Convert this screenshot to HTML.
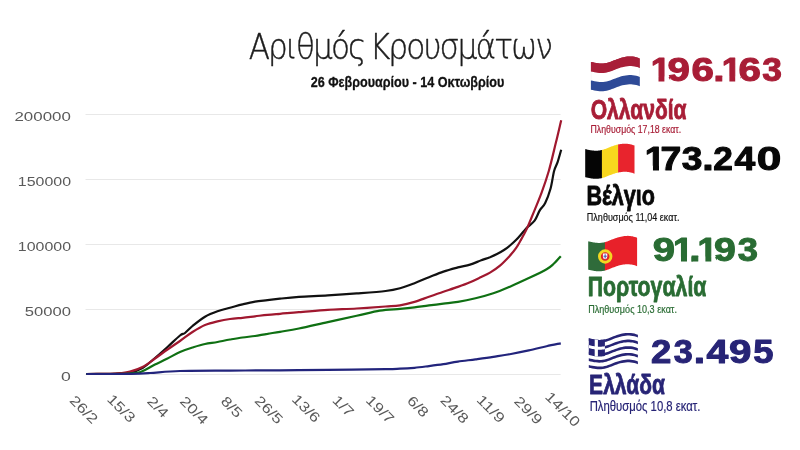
<!DOCTYPE html>
<html lang="el"><head><meta charset="utf-8"><title>Αριθμός Κρουσμάτων</title>
<style>
html,body{margin:0;padding:0;background:#fff;}
body{width:800px;height:450px;overflow:hidden;}
svg{display:block;will-change:transform;}
.lib{font-family:"Liberation Sans",sans-serif;}
.dj{font-family:"DejaVu Sans","Liberation Sans",sans-serif;}
</style></head><body>
<svg width="800" height="450" viewBox="0 0 800 450">
<rect width="800" height="450" fill="#ffffff"/>
<line x1="85.5" y1="114.5" x2="560.6" y2="114.5" stroke="#e8e8e8" stroke-width="1"/>
<line x1="85.5" y1="179.5" x2="560.6" y2="179.5" stroke="#e8e8e8" stroke-width="1"/>
<line x1="85.5" y1="244.5" x2="560.6" y2="244.5" stroke="#e8e8e8" stroke-width="1"/>
<line x1="85.5" y1="309.5" x2="560.6" y2="309.5" stroke="#e8e8e8" stroke-width="1"/>
<line x1="85.5" y1="374.5" x2="560.6" y2="374.5" stroke="#e8e8e8" stroke-width="1"/>
<text class="lib" transform="translate(68.70,401.25) rotate(45)" font-size="14.0" fill="#5a5a5a" textLength="33.2" lengthAdjust="spacingAndGlyphs">26/2</text>
<text class="lib" transform="translate(106.15,400.00) rotate(45)" font-size="14.0" fill="#5a5a5a" textLength="33.2" lengthAdjust="spacingAndGlyphs">15/3</text>
<text class="lib" transform="translate(146.25,402.05) rotate(45)" font-size="14.0" fill="#5a5a5a" textLength="23.7" lengthAdjust="spacingAndGlyphs">2/4</text>
<text class="lib" transform="translate(179.05,402.10) rotate(45)" font-size="14.0" fill="#5a5a5a" textLength="33.2" lengthAdjust="spacingAndGlyphs">20/4</text>
<text class="lib" transform="translate(219.90,402.00) rotate(45)" font-size="14.0" fill="#5a5a5a" textLength="23.7" lengthAdjust="spacingAndGlyphs">8/5</text>
<text class="lib" transform="translate(253.75,401.60) rotate(45)" font-size="14.0" fill="#5a5a5a" textLength="33.2" lengthAdjust="spacingAndGlyphs">26/5</text>
<text class="lib" transform="translate(291.10,400.10) rotate(45)" font-size="14.0" fill="#5a5a5a" textLength="33.2" lengthAdjust="spacingAndGlyphs">13/6</text>
<text class="lib" transform="translate(331.45,401.00) rotate(45)" font-size="14.0" fill="#5a5a5a" textLength="23.7" lengthAdjust="spacingAndGlyphs">1/7</text>
<text class="lib" transform="translate(365.00,401.00) rotate(45)" font-size="14.0" fill="#5a5a5a" textLength="33.2" lengthAdjust="spacingAndGlyphs">19/7</text>
<text class="lib" transform="translate(406.25,401.50) rotate(45)" font-size="14.0" fill="#5a5a5a" textLength="23.7" lengthAdjust="spacingAndGlyphs">6/8</text>
<text class="lib" transform="translate(439.50,401.10) rotate(45)" font-size="14.0" fill="#5a5a5a" textLength="33.2" lengthAdjust="spacingAndGlyphs">24/8</text>
<text class="lib" transform="translate(475.65,400.50) rotate(45)" font-size="14.0" fill="#5a5a5a" textLength="33.2" lengthAdjust="spacingAndGlyphs">11/9</text>
<text class="lib" transform="translate(513.30,402.00) rotate(45)" font-size="14.0" fill="#5a5a5a" textLength="33.2" lengthAdjust="spacingAndGlyphs">29/9</text>
<text class="lib" transform="translate(544.25,397.60) rotate(45)" font-size="14.0" fill="#5a5a5a" textLength="42.7" lengthAdjust="spacingAndGlyphs">14/10</text>
<path d="M 86.2,374.0 C 89.4,374.0 99.8,373.9 105.0,373.8 C 110.2,373.7 113.3,373.8 117.5,373.6 C 121.7,373.4 125.8,373.5 130.0,372.6 C 134.2,371.7 138.3,370.4 142.5,368.0 C 146.7,365.6 150.8,361.5 155.0,358.0 C 159.2,354.5 163.3,350.8 167.5,347.0 C 171.7,343.2 177.1,337.8 180.0,335.5 C 182.9,333.2 182.9,334.6 185.0,333.0 C 187.1,331.4 189.2,328.7 192.5,326.0 C 195.8,323.3 200.8,319.2 205.0,316.7 C 209.2,314.2 213.3,312.7 217.5,311.2 C 221.7,309.7 225.8,308.8 230.0,307.7 C 234.2,306.6 238.3,305.4 242.5,304.4 C 246.7,303.4 250.8,302.4 255.0,301.7 C 259.2,301.0 263.3,300.7 267.5,300.2 C 271.7,299.7 274.8,299.3 280.0,298.7 C 285.2,298.1 290.9,297.4 298.9,296.8 C 306.9,296.2 318.2,296.0 327.8,295.4 C 337.4,294.8 347.1,294.1 356.7,293.4 C 366.3,292.7 378.4,291.9 385.6,291.0 C 392.8,290.1 395.2,289.5 400.0,288.2 C 404.8,286.9 409.7,285.0 414.5,283.2 C 419.3,281.4 424.2,279.1 429.0,277.2 C 433.8,275.3 438.6,273.2 443.4,271.6 C 448.2,270.0 453.5,268.6 457.9,267.4 C 462.3,266.2 466.1,265.8 470.0,264.6 C 473.9,263.4 478.0,261.5 481.3,260.3 C 484.6,259.1 487.4,258.2 490.0,257.2 C 492.6,256.1 494.7,255.2 497.0,254.0 C 499.3,252.8 501.8,251.4 504.0,250.0 C 506.2,248.6 508.0,247.2 510.0,245.5 C 512.0,243.8 514.3,241.7 516.0,240.0 C 517.7,238.3 519.1,236.7 520.4,235.2 C 521.7,233.7 522.8,232.3 524.0,231.0 C 525.2,229.7 525.7,228.8 527.5,227.1 C 529.3,225.4 532.5,223.5 534.6,220.7 C 536.7,217.9 538.1,213.0 539.9,210.1 C 541.7,207.2 543.4,206.6 545.2,203.0 C 547.0,199.4 549.0,194.1 550.5,188.8 C 552.0,183.5 552.9,175.4 554.1,171.0 C 555.3,166.6 556.4,165.7 557.6,162.1 C 558.8,158.5 560.6,151.8 561.2,149.7" fill="none" stroke="#111111" stroke-width="2.2" stroke-linejoin="round" stroke-linecap="butt"/>
<path d="M 86.2,374.0 C 90.2,374.0 104.4,373.9 110.0,373.8 C 115.6,373.7 116.7,373.6 120.0,373.2 C 123.3,372.8 126.2,372.6 130.0,371.6 C 133.8,370.6 138.3,369.2 142.5,367.0 C 146.7,364.8 150.8,361.4 155.0,358.5 C 159.2,355.6 163.3,352.4 167.5,349.5 C 171.7,346.6 175.8,343.9 180.0,341.0 C 184.2,338.1 188.3,334.6 192.5,332.0 C 196.7,329.4 200.8,326.9 205.0,325.1 C 209.2,323.3 213.3,322.4 217.5,321.4 C 221.7,320.4 225.8,319.6 230.0,319.0 C 234.2,318.4 238.3,318.2 242.5,317.8 C 246.7,317.4 250.8,316.8 255.0,316.3 C 259.2,315.8 263.3,315.2 267.5,314.8 C 271.7,314.4 274.8,314.2 280.0,313.8 C 285.2,313.4 290.9,312.8 298.9,312.2 C 306.9,311.6 318.2,310.5 327.8,309.9 C 337.4,309.3 347.1,309.1 356.7,308.5 C 366.3,307.9 378.4,307.0 385.6,306.5 C 392.8,306.0 395.2,306.1 400.0,305.3 C 404.8,304.5 409.7,303.3 414.5,301.9 C 419.3,300.5 424.2,298.4 429.0,296.7 C 433.8,295.0 438.6,293.3 443.4,291.7 C 448.2,290.1 453.5,288.5 457.9,286.9 C 462.3,285.3 466.3,283.8 470.0,282.2 C 473.7,280.7 476.7,279.2 480.0,277.6 C 483.3,276.0 486.7,274.6 490.0,272.6 C 493.3,270.6 496.7,268.4 500.0,265.6 C 503.3,262.8 507.3,258.5 510.0,255.6 C 512.7,252.7 514.3,250.7 516.0,248.2 C 517.7,245.7 519.1,243.1 520.4,240.8 C 521.7,238.5 522.8,236.6 524.0,234.3 C 525.2,232.1 525.7,231.3 527.5,227.3 C 529.3,223.3 532.2,215.9 534.6,210.1 C 537.0,204.3 539.3,198.8 541.7,192.3 C 544.1,185.8 546.4,179.3 548.8,171.0 C 551.2,162.7 553.8,151.1 555.9,142.6 C 558.0,134.1 560.3,123.9 561.2,120.2" fill="none" stroke="#a0182f" stroke-width="2.2" stroke-linejoin="round" stroke-linecap="butt"/>
<path d="M 86.2,374.0 C 92.7,374.0 116.5,374.0 125.0,373.8 C 133.5,373.6 134.2,373.4 137.5,372.8 C 140.8,372.2 142.1,371.4 145.0,370.0 C 147.9,368.6 151.2,366.4 155.0,364.5 C 158.8,362.6 163.3,360.6 167.5,358.5 C 171.7,356.4 175.8,353.8 180.0,352.0 C 184.2,350.2 188.3,348.8 192.5,347.5 C 196.7,346.2 200.8,344.9 205.0,344.0 C 209.2,343.1 213.3,342.8 217.5,342.0 C 221.7,341.2 225.8,340.2 230.0,339.5 C 234.2,338.8 238.3,338.1 242.5,337.5 C 246.7,336.9 250.8,336.6 255.0,336.0 C 259.2,335.4 263.3,334.4 267.5,333.8 C 271.7,333.1 274.8,332.7 280.0,331.8 C 285.2,330.9 290.9,330.1 298.9,328.5 C 306.9,326.9 318.2,324.2 327.8,322.1 C 337.4,320.0 348.0,317.7 356.7,315.8 C 365.4,313.9 372.6,311.8 379.8,310.6 C 387.0,309.5 394.2,309.4 400.0,308.9 C 405.8,308.4 409.7,308.0 414.5,307.4 C 419.3,306.8 424.2,306.0 429.0,305.4 C 433.8,304.8 438.6,304.3 443.4,303.7 C 448.2,303.1 452.5,302.8 457.9,301.9 C 463.2,301.0 469.6,299.7 475.5,298.3 C 481.4,296.9 487.4,295.3 493.3,293.3 C 499.2,291.3 505.1,288.7 511.0,286.2 C 516.9,283.7 522.9,280.9 528.8,278.1 C 534.7,275.3 542.5,271.6 546.6,269.2 C 550.8,266.8 551.3,266.0 553.7,263.8 C 556.1,261.6 559.6,257.5 560.8,256.2" fill="none" stroke="#0f7013" stroke-width="2.2" stroke-linejoin="round" stroke-linecap="butt"/>
<path d="M 86.2,374.0 C 93.5,374.0 119.4,374.0 130.0,373.8 C 140.6,373.6 141.7,373.5 150.0,373.0 C 158.3,372.5 166.7,371.4 180.0,371.0 C 193.3,370.6 213.3,370.7 230.0,370.6 C 246.7,370.5 263.7,370.4 280.0,370.3 C 296.3,370.2 310.2,370.0 327.8,369.8 C 345.4,369.6 373.6,369.4 385.6,369.2 C 397.6,369.0 395.2,368.9 400.0,368.7 C 404.8,368.5 409.7,368.2 414.5,367.8 C 419.3,367.4 424.2,366.7 429.0,366.1 C 433.8,365.5 438.6,364.9 443.4,364.2 C 448.2,363.4 452.5,362.4 457.9,361.6 C 463.2,360.8 469.6,360.1 475.5,359.3 C 481.4,358.5 487.4,357.7 493.3,356.8 C 499.2,355.9 505.1,355.1 511.0,354.0 C 516.9,352.9 522.9,351.7 528.8,350.4 C 534.7,349.1 541.3,347.4 546.6,346.2 C 551.9,345.0 558.4,343.8 560.8,343.3" fill="none" stroke="#22247c" stroke-width="2.2" stroke-linejoin="round" stroke-linecap="butt"/>
<path d="M 590.90,61.90 L 592.65,62.28 L 594.39,62.67 L 596.14,63.01 L 597.89,63.25 L 599.63,63.43 L 601.38,63.52 L 603.12,63.47 L 604.87,63.29 L 606.62,62.99 L 608.36,62.54 L 610.11,61.99 L 611.86,61.31 L 613.60,60.58 L 615.35,59.90 L 617.10,59.26 L 618.84,58.63 L 620.59,58.05 L 622.34,57.57 L 624.08,57.17 L 625.83,56.85 L 627.57,56.61 L 629.32,56.49 L 631.07,56.48 L 632.81,56.61 L 634.56,56.84 L 636.31,57.22 L 638.05,57.75 L 639.80,58.40 L 639.80,86.20 L 638.05,85.55 L 636.31,85.02 L 634.56,84.64 L 632.81,84.41 L 631.07,84.28 L 629.32,84.29 L 627.57,84.41 L 625.83,84.65 L 624.08,84.97 L 622.34,85.37 L 620.59,85.85 L 618.84,86.43 L 617.10,87.06 L 615.35,87.70 L 613.60,88.38 L 611.86,89.11 L 610.11,89.79 L 608.36,90.34 L 606.62,90.79 L 604.87,91.09 L 603.12,91.27 L 601.38,91.32 L 599.63,91.23 L 597.89,91.05 L 596.14,90.81 L 594.39,90.47 L 592.65,90.08 L 590.90,89.70 Z" fill="#ececec"/>
<path d="M 591.30,61.90 L 593.02,62.28 L 594.74,62.67 L 596.45,63.01 L 598.17,63.25 L 599.89,63.43 L 601.61,63.52 L 603.32,63.47 L 605.04,63.29 L 606.76,62.99 L 608.48,62.54 L 610.20,61.99 L 611.91,61.31 L 613.63,60.58 L 615.35,59.90 L 617.07,59.26 L 618.79,58.63 L 620.50,58.05 L 622.22,57.57 L 623.94,57.17 L 625.66,56.85 L 627.38,56.61 L 629.09,56.49 L 630.81,56.48 L 632.53,56.61 L 634.25,56.84 L 635.96,57.22 L 637.68,57.75 L 639.40,58.40 L 639.40,67.97 L 637.68,67.32 L 635.96,66.79 L 634.25,66.41 L 632.53,66.18 L 630.81,66.05 L 629.09,66.05 L 627.38,66.18 L 625.66,66.41 L 623.94,66.74 L 622.22,67.13 L 620.50,67.62 L 618.79,68.20 L 617.07,68.83 L 615.35,69.47 L 613.63,70.15 L 611.91,70.88 L 610.20,71.56 L 608.48,72.11 L 606.76,72.56 L 605.04,72.86 L 603.32,73.04 L 601.61,73.09 L 599.89,73.00 L 598.17,72.81 L 596.45,72.57 L 594.74,72.24 L 593.02,71.85 L 591.30,71.47 Z" fill="#a81e38"/>
<path d="M 591.30,71.17 L 593.02,71.55 L 594.74,71.94 L 596.45,72.27 L 598.17,72.51 L 599.89,72.70 L 601.61,72.79 L 603.32,72.74 L 605.04,72.56 L 606.76,72.26 L 608.48,71.81 L 610.20,71.26 L 611.91,70.58 L 613.63,69.85 L 615.35,69.17 L 617.07,68.53 L 618.79,67.90 L 620.50,67.32 L 622.22,66.83 L 623.94,66.44 L 625.66,66.11 L 627.38,65.88 L 629.09,65.75 L 630.81,65.75 L 632.53,65.88 L 634.25,66.11 L 635.96,66.49 L 637.68,67.02 L 639.40,67.67 L 639.40,77.23 L 637.68,76.59 L 635.96,76.06 L 634.25,75.68 L 632.53,75.45 L 630.81,75.32 L 629.09,75.32 L 627.38,75.45 L 625.66,75.68 L 623.94,76.00 L 622.22,76.40 L 620.50,76.88 L 618.79,77.47 L 617.07,78.10 L 615.35,78.73 L 613.63,79.41 L 611.91,80.14 L 610.20,80.83 L 608.48,81.38 L 606.76,81.82 L 605.04,82.13 L 603.32,82.30 L 601.61,82.35 L 599.89,82.27 L 598.17,82.08 L 596.45,81.84 L 594.74,81.50 L 593.02,81.12 L 591.30,80.73 Z" fill="#ffffff"/>
<path d="M 590.90,80.43 L 592.65,80.82 L 594.39,81.20 L 596.14,81.54 L 597.89,81.78 L 599.63,81.97 L 601.38,82.05 L 603.12,82.00 L 604.87,81.83 L 606.62,81.52 L 608.36,81.08 L 610.11,80.53 L 611.86,79.84 L 613.60,79.11 L 615.35,78.43 L 617.10,77.80 L 618.84,77.17 L 620.59,76.58 L 622.34,76.10 L 624.08,75.70 L 625.83,75.38 L 627.57,75.15 L 629.32,75.02 L 631.07,75.02 L 632.81,75.15 L 634.56,75.38 L 636.31,75.76 L 638.05,76.29 L 639.80,76.93 L 639.80,86.20 L 638.05,85.55 L 636.31,85.02 L 634.56,84.64 L 632.81,84.41 L 631.07,84.28 L 629.32,84.29 L 627.57,84.41 L 625.83,84.65 L 624.08,84.97 L 622.34,85.37 L 620.59,85.85 L 618.84,86.43 L 617.10,87.06 L 615.35,87.70 L 613.60,88.38 L 611.86,89.11 L 610.11,89.79 L 608.36,90.34 L 606.62,90.79 L 604.87,91.09 L 603.12,91.27 L 601.38,91.32 L 599.63,91.23 L 597.89,91.05 L 596.14,90.81 L 594.39,90.47 L 592.65,90.08 L 590.90,89.70 Z" fill="#2e4a97"/>
<path d="M 590.90,61.90 L 592.65,62.28 L 594.39,62.67 L 596.14,63.01 L 597.89,63.25 L 599.63,63.43 L 601.38,63.52 L 603.12,63.47 L 604.87,63.29 L 606.62,62.99 L 608.36,62.54 L 610.11,61.99 L 611.86,61.31 L 613.60,60.58 L 615.35,59.90 L 617.10,59.26 L 618.84,58.63 L 620.59,58.05 L 622.34,57.57 L 624.08,57.17 L 625.83,56.85 L 627.57,56.61 L 629.32,56.49 L 631.07,56.48 L 632.81,56.61 L 634.56,56.84 L 636.31,57.22 L 638.05,57.75 L 639.80,58.40 L 639.80,67.97 L 638.05,67.32 L 636.31,66.79 L 634.56,66.41 L 632.81,66.18 L 631.07,66.05 L 629.32,66.05 L 627.57,66.18 L 625.83,66.41 L 624.08,66.74 L 622.34,67.13 L 620.59,67.62 L 618.84,68.20 L 617.10,68.83 L 615.35,69.47 L 613.60,70.15 L 611.86,70.88 L 610.11,71.56 L 608.36,72.11 L 606.62,72.56 L 604.87,72.86 L 603.12,73.04 L 601.38,73.09 L 599.63,73.00 L 597.89,72.81 L 596.14,72.57 L 594.39,72.24 L 592.65,71.85 L 590.90,71.47 Z" fill="#a81e38"/>
<path d="M 585.20,149.10 L 585.80,149.23 L 586.41,149.36 L 587.01,149.49 L 587.61,149.63 L 588.22,149.76 L 588.82,149.89 L 589.43,150.02 L 590.03,150.13 L 590.63,150.23 L 591.24,150.32 L 591.84,150.40 L 592.44,150.47 L 593.05,150.54 L 593.65,150.60 L 594.25,150.65 L 594.86,150.69 L 595.46,150.71 L 596.06,150.72 L 596.67,150.71 L 597.27,150.69 L 597.88,150.64 L 598.48,150.59 L 599.08,150.52 L 599.69,150.44 L 600.29,150.34 L 600.89,150.22 L 601.50,150.09 L 602.10,149.94 L 602.10,178.04 L 601.50,178.19 L 600.89,178.32 L 600.29,178.44 L 599.69,178.54 L 599.08,178.62 L 598.48,178.69 L 597.88,178.74 L 597.27,178.79 L 596.67,178.81 L 596.06,178.82 L 595.46,178.81 L 594.86,178.79 L 594.25,178.75 L 593.65,178.70 L 593.05,178.64 L 592.44,178.57 L 591.84,178.50 L 591.24,178.42 L 590.63,178.33 L 590.03,178.23 L 589.43,178.12 L 588.82,177.99 L 588.22,177.86 L 587.61,177.73 L 587.01,177.59 L 586.41,177.46 L 585.80,177.33 L 585.20,177.20 Z" fill="#050505"/>
<path d="M 601.90,149.99 L 602.49,149.84 L 603.07,149.67 L 603.66,149.50 L 604.24,149.31 L 604.83,149.10 L 605.41,148.88 L 606.00,148.64 L 606.59,148.40 L 607.17,148.16 L 607.76,147.92 L 608.34,147.68 L 608.93,147.44 L 609.51,147.22 L 610.10,147.01 L 610.69,146.80 L 611.27,146.59 L 611.86,146.37 L 612.44,146.16 L 613.03,145.95 L 613.61,145.75 L 614.20,145.55 L 614.79,145.36 L 615.37,145.18 L 615.96,145.01 L 616.54,144.85 L 617.13,144.71 L 617.71,144.57 L 618.30,144.44 L 618.30,172.54 L 617.71,172.67 L 617.13,172.81 L 616.54,172.95 L 615.96,173.11 L 615.37,173.28 L 614.79,173.46 L 614.20,173.65 L 613.61,173.85 L 613.03,174.05 L 612.44,174.26 L 611.86,174.47 L 611.27,174.69 L 610.69,174.90 L 610.10,175.11 L 609.51,175.32 L 608.93,175.54 L 608.34,175.78 L 607.76,176.02 L 607.17,176.26 L 606.59,176.50 L 606.00,176.74 L 605.41,176.98 L 604.83,177.20 L 604.24,177.41 L 603.66,177.60 L 603.07,177.77 L 602.49,177.94 L 601.90,178.09 Z" fill="#f8d71e"/>
<path d="M 618.10,144.49 L 618.69,144.36 L 619.27,144.25 L 619.86,144.14 L 620.44,144.04 L 621.03,143.96 L 621.61,143.88 L 622.20,143.81 L 622.79,143.76 L 623.37,143.72 L 623.96,143.68 L 624.54,143.67 L 625.13,143.67 L 625.71,143.68 L 626.30,143.72 L 626.89,143.76 L 627.47,143.82 L 628.06,143.88 L 628.64,143.96 L 629.23,144.05 L 629.81,144.15 L 630.40,144.28 L 630.99,144.42 L 631.57,144.59 L 632.16,144.76 L 632.74,144.95 L 633.33,145.16 L 633.91,145.37 L 634.50,145.60 L 634.50,173.70 L 633.91,173.47 L 633.33,173.26 L 632.74,173.05 L 632.16,172.86 L 631.57,172.69 L 630.99,172.52 L 630.40,172.38 L 629.81,172.25 L 629.23,172.15 L 628.64,172.06 L 628.06,171.98 L 627.47,171.92 L 626.89,171.86 L 626.30,171.82 L 625.71,171.78 L 625.13,171.77 L 624.54,171.77 L 623.96,171.78 L 623.37,171.82 L 622.79,171.86 L 622.20,171.91 L 621.61,171.98 L 621.03,172.06 L 620.44,172.14 L 619.86,172.24 L 619.27,172.35 L 618.69,172.46 L 618.10,172.59 Z" fill="#e8242d"/>
<path d="M 588.20,241.30 L 588.80,241.43 L 589.41,241.56 L 590.01,241.70 L 590.61,241.83 L 591.22,241.97 L 591.82,242.10 L 592.43,242.22 L 593.03,242.34 L 593.63,242.44 L 594.24,242.52 L 594.84,242.60 L 595.44,242.68 L 596.05,242.75 L 596.65,242.81 L 597.25,242.86 L 597.86,242.89 L 598.46,242.92 L 599.06,242.92 L 599.67,242.91 L 600.27,242.88 L 600.88,242.84 L 601.48,242.78 L 602.08,242.71 L 602.69,242.62 L 603.29,242.51 L 603.89,242.39 L 604.50,242.26 L 605.10,242.10 L 605.10,270.50 L 604.50,270.66 L 603.89,270.79 L 603.29,270.91 L 602.69,271.02 L 602.08,271.11 L 601.48,271.18 L 600.88,271.24 L 600.27,271.28 L 599.67,271.31 L 599.06,271.32 L 598.46,271.32 L 597.86,271.29 L 597.25,271.26 L 596.65,271.21 L 596.05,271.15 L 595.44,271.08 L 594.84,271.00 L 594.24,270.92 L 593.63,270.84 L 593.03,270.74 L 592.43,270.62 L 591.82,270.50 L 591.22,270.37 L 590.61,270.23 L 590.01,270.10 L 589.41,269.96 L 588.80,269.83 L 588.20,269.70 Z" fill="#2f6b3a"/>
<path d="M 604.90,242.16 L 606.05,241.83 L 607.20,241.47 L 608.35,241.04 L 609.50,240.57 L 610.65,240.09 L 611.80,239.62 L 612.95,239.19 L 614.10,238.77 L 615.25,238.35 L 616.40,237.94 L 617.55,237.56 L 618.70,237.21 L 619.85,236.91 L 621.00,236.65 L 622.15,236.42 L 623.30,236.22 L 624.45,236.06 L 625.60,235.95 L 626.75,235.88 L 627.90,235.87 L 629.05,235.92 L 630.20,236.02 L 631.35,236.17 L 632.50,236.36 L 633.65,236.63 L 634.80,236.97 L 635.95,237.36 L 637.10,237.80 L 637.10,266.20 L 635.95,265.76 L 634.80,265.37 L 633.65,265.03 L 632.50,264.76 L 631.35,264.57 L 630.20,264.42 L 629.05,264.32 L 627.90,264.27 L 626.75,264.28 L 625.60,264.35 L 624.45,264.46 L 623.30,264.62 L 622.15,264.82 L 621.00,265.05 L 619.85,265.31 L 618.70,265.61 L 617.55,265.96 L 616.40,266.34 L 615.25,266.75 L 614.10,267.17 L 612.95,267.59 L 611.80,268.02 L 610.65,268.49 L 609.50,268.97 L 608.35,269.44 L 607.20,269.87 L 606.05,270.23 L 604.90,270.56 Z" fill="#e8212a"/>
<circle cx="605.2" cy="256.5" r="5.75" fill="#dc232b" stroke="#f2d822" stroke-width="2.9"/>
<path d="M 602.9,253.6 h 4.4 v 3.2 a 2.2,2.4 0 0 1 -4.4,0 Z" fill="#ffffff"/>
<rect x="604.6" y="254.3" width="1.1" height="4.2" fill="#4a62b0"/><rect x="603.5" y="255.7" width="3.3" height="1.1" fill="#4a62b0"/>
<path d="M 588.80,338.30 L 590.55,338.68 L 592.31,339.07 L 594.06,339.41 L 595.81,339.65 L 597.57,339.83 L 599.32,339.92 L 601.07,339.87 L 602.83,339.69 L 604.58,339.39 L 606.34,338.94 L 608.09,338.39 L 609.84,337.71 L 611.60,336.98 L 613.35,336.30 L 615.10,335.66 L 616.86,335.03 L 618.61,334.45 L 620.36,333.97 L 622.12,333.57 L 623.87,333.25 L 625.62,333.01 L 627.38,332.89 L 629.13,332.88 L 630.89,333.01 L 632.64,333.24 L 634.39,333.62 L 636.15,334.15 L 637.90,334.80 L 637.90,337.50 L 636.15,336.85 L 634.39,336.32 L 632.64,335.94 L 630.89,335.71 L 629.13,335.58 L 627.38,335.59 L 625.62,335.71 L 623.87,335.95 L 622.12,336.27 L 620.36,336.67 L 618.61,337.15 L 616.86,337.73 L 615.10,338.36 L 613.35,339.00 L 611.60,339.68 L 609.84,340.41 L 608.09,341.09 L 606.34,341.64 L 604.58,342.09 L 602.83,342.39 L 601.07,342.57 L 599.32,342.62 L 597.57,342.53 L 595.81,342.35 L 594.06,342.11 L 592.31,341.77 L 590.55,341.38 L 588.80,341.00 Z" fill="#272476"/>
<path d="M 588.80,344.98 L 590.55,345.36 L 592.31,345.75 L 594.06,346.08 L 595.81,346.32 L 597.57,346.51 L 599.32,346.60 L 601.07,346.55 L 602.83,346.37 L 604.58,346.06 L 606.34,345.62 L 608.09,345.07 L 609.84,344.39 L 611.60,343.66 L 613.35,342.98 L 615.10,342.34 L 616.86,341.71 L 618.61,341.13 L 620.36,340.64 L 622.12,340.24 L 623.87,339.92 L 625.62,339.69 L 627.38,339.56 L 629.13,339.56 L 630.89,339.69 L 632.64,339.92 L 634.39,340.30 L 636.15,340.83 L 637.90,341.48 L 637.90,344.18 L 636.15,343.53 L 634.39,343.00 L 632.64,342.62 L 630.89,342.39 L 629.13,342.26 L 627.38,342.26 L 625.62,342.39 L 623.87,342.62 L 622.12,342.94 L 620.36,343.34 L 618.61,343.83 L 616.86,344.41 L 615.10,345.04 L 613.35,345.68 L 611.60,346.36 L 609.84,347.09 L 608.09,347.77 L 606.34,348.32 L 604.58,348.76 L 602.83,349.07 L 601.07,349.25 L 599.32,349.30 L 597.57,349.21 L 595.81,349.02 L 594.06,348.78 L 592.31,348.45 L 590.55,348.06 L 588.80,347.68 Z" fill="#272476"/>
<path d="M 588.80,351.65 L 590.55,352.03 L 592.31,352.42 L 594.06,352.76 L 595.81,353.00 L 597.57,353.18 L 599.32,353.27 L 601.07,353.22 L 602.83,353.04 L 604.58,352.74 L 606.34,352.29 L 608.09,351.74 L 609.84,351.06 L 611.60,350.33 L 613.35,349.65 L 615.10,349.01 L 616.86,348.38 L 618.61,347.80 L 620.36,347.32 L 622.12,346.92 L 623.87,346.60 L 625.62,346.36 L 627.38,346.24 L 629.13,346.23 L 630.89,346.36 L 632.64,346.59 L 634.39,346.97 L 636.15,347.50 L 637.90,348.15 L 637.90,350.85 L 636.15,350.20 L 634.39,349.67 L 632.64,349.29 L 630.89,349.06 L 629.13,348.93 L 627.38,348.94 L 625.62,349.06 L 623.87,349.30 L 622.12,349.62 L 620.36,350.02 L 618.61,350.50 L 616.86,351.08 L 615.10,351.71 L 613.35,352.35 L 611.60,353.03 L 609.84,353.76 L 608.09,354.44 L 606.34,354.99 L 604.58,355.44 L 602.83,355.74 L 601.07,355.92 L 599.32,355.97 L 597.57,355.88 L 595.81,355.70 L 594.06,355.46 L 592.31,355.12 L 590.55,354.73 L 588.80,354.35 Z" fill="#272476"/>
<path d="M 588.80,358.32 L 590.55,358.71 L 592.31,359.10 L 594.06,359.43 L 595.81,359.67 L 597.57,359.86 L 599.32,359.95 L 601.07,359.90 L 602.83,359.72 L 604.58,359.41 L 606.34,358.97 L 608.09,358.42 L 609.84,357.74 L 611.60,357.01 L 613.35,356.32 L 615.10,355.69 L 616.86,355.06 L 618.61,354.48 L 620.36,353.99 L 622.12,353.59 L 623.87,353.27 L 625.62,353.04 L 627.38,352.91 L 629.13,352.91 L 630.89,353.04 L 632.64,353.27 L 634.39,353.65 L 636.15,354.18 L 637.90,354.82 L 637.90,357.52 L 636.15,356.88 L 634.39,356.35 L 632.64,355.97 L 630.89,355.74 L 629.13,355.61 L 627.38,355.61 L 625.62,355.74 L 623.87,355.97 L 622.12,356.29 L 620.36,356.69 L 618.61,357.18 L 616.86,357.76 L 615.10,358.39 L 613.35,359.02 L 611.60,359.71 L 609.84,360.44 L 608.09,361.12 L 606.34,361.67 L 604.58,362.11 L 602.83,362.42 L 601.07,362.60 L 599.32,362.65 L 597.57,362.56 L 595.81,362.37 L 594.06,362.13 L 592.31,361.80 L 590.55,361.41 L 588.80,361.02 Z" fill="#272476"/>
<path d="M 588.80,365.00 L 590.55,365.38 L 592.31,365.77 L 594.06,366.11 L 595.81,366.35 L 597.57,366.53 L 599.32,366.62 L 601.07,366.57 L 602.83,366.39 L 604.58,366.09 L 606.34,365.64 L 608.09,365.09 L 609.84,364.41 L 611.60,363.68 L 613.35,363.00 L 615.10,362.36 L 616.86,361.73 L 618.61,361.15 L 620.36,360.67 L 622.12,360.27 L 623.87,359.95 L 625.62,359.71 L 627.38,359.59 L 629.13,359.58 L 630.89,359.71 L 632.64,359.94 L 634.39,360.32 L 636.15,360.85 L 637.90,361.50 L 637.90,364.20 L 636.15,363.55 L 634.39,363.02 L 632.64,362.64 L 630.89,362.41 L 629.13,362.28 L 627.38,362.29 L 625.62,362.41 L 623.87,362.65 L 622.12,362.97 L 620.36,363.37 L 618.61,363.85 L 616.86,364.43 L 615.10,365.06 L 613.35,365.70 L 611.60,366.38 L 609.84,367.11 L 608.09,367.79 L 606.34,368.34 L 604.58,368.79 L 602.83,369.09 L 601.07,369.27 L 599.32,369.32 L 597.57,369.23 L 595.81,369.05 L 594.06,368.81 L 592.31,368.47 L 590.55,368.08 L 588.80,367.70 Z" fill="#272476"/>
<path d="M 588.80,338.30 L 589.38,338.42 L 589.95,338.55 L 590.52,338.68 L 591.10,338.81 L 591.67,338.93 L 592.25,339.06 L 592.82,339.18 L 593.40,339.29 L 593.97,339.39 L 594.55,339.48 L 595.12,339.56 L 595.70,339.63 L 596.27,339.70 L 596.85,339.76 L 597.42,339.82 L 598.00,339.86 L 598.57,339.90 L 599.15,339.92 L 599.72,339.92 L 600.30,339.91 L 600.88,339.88 L 601.45,339.84 L 602.02,339.79 L 602.60,339.72 L 603.17,339.64 L 603.75,339.55 L 604.32,339.44 L 604.90,339.32 L 604.90,355.97 L 604.32,356.09 L 603.75,356.20 L 603.17,356.29 L 602.60,356.37 L 602.02,356.44 L 601.45,356.49 L 600.88,356.53 L 600.30,356.56 L 599.72,356.57 L 599.15,356.57 L 598.57,356.55 L 598.00,356.51 L 597.42,356.47 L 596.85,356.41 L 596.27,356.35 L 595.70,356.28 L 595.12,356.21 L 594.55,356.13 L 593.97,356.04 L 593.40,355.94 L 592.82,355.83 L 592.25,355.71 L 591.67,355.58 L 591.10,355.46 L 590.52,355.33 L 589.95,355.20 L 589.38,355.07 L 588.80,354.95 Z" fill="#272476"/>
<path d="M 594.70,339.50 L 594.81,339.52 L 594.93,339.53 L 595.04,339.55 L 595.16,339.56 L 595.27,339.58 L 595.39,339.59 L 595.50,339.61 L 595.61,339.62 L 595.73,339.64 L 595.84,339.65 L 595.96,339.66 L 596.07,339.68 L 596.19,339.69 L 596.30,339.70 L 596.41,339.72 L 596.53,339.73 L 596.64,339.74 L 596.76,339.76 L 596.87,339.77 L 596.99,339.78 L 597.10,339.79 L 597.21,339.80 L 597.33,339.81 L 597.44,339.82 L 597.56,339.83 L 597.67,339.84 L 597.79,339.85 L 597.90,339.86 L 597.90,356.51 L 597.79,356.50 L 597.67,356.49 L 597.56,356.48 L 597.44,356.47 L 597.33,356.46 L 597.21,356.45 L 597.10,356.44 L 596.99,356.43 L 596.87,356.42 L 596.76,356.41 L 596.64,356.39 L 596.53,356.38 L 596.41,356.37 L 596.30,356.35 L 596.19,356.34 L 596.07,356.33 L 595.96,356.31 L 595.84,356.30 L 595.73,356.29 L 595.61,356.27 L 595.50,356.26 L 595.39,356.24 L 595.27,356.23 L 595.16,356.21 L 595.04,356.20 L 594.93,356.18 L 594.81,356.17 L 594.70,356.15 Z" fill="#ffffff"/>
<path d="M 588.80,345.12 L 589.38,345.25 L 589.95,345.37 L 590.52,345.50 L 591.10,345.63 L 591.67,345.76 L 592.25,345.88 L 592.82,346.00 L 593.40,346.12 L 593.97,346.22 L 594.55,346.31 L 595.12,346.38 L 595.70,346.46 L 596.27,346.53 L 596.85,346.59 L 597.42,346.64 L 598.00,346.69 L 598.57,346.72 L 599.15,346.74 L 599.72,346.75 L 600.30,346.74 L 600.88,346.71 L 601.45,346.67 L 602.02,346.61 L 602.60,346.55 L 603.17,346.47 L 603.75,346.38 L 604.32,346.27 L 604.90,346.14 L 604.90,349.14 L 604.32,349.27 L 603.75,349.38 L 603.17,349.47 L 602.60,349.55 L 602.02,349.61 L 601.45,349.67 L 600.88,349.71 L 600.30,349.74 L 599.72,349.75 L 599.15,349.74 L 598.57,349.72 L 598.00,349.69 L 597.42,349.64 L 596.85,349.59 L 596.27,349.53 L 595.70,349.46 L 595.12,349.38 L 594.55,349.31 L 593.97,349.22 L 593.40,349.12 L 592.82,349.00 L 592.25,348.88 L 591.67,348.76 L 591.10,348.63 L 590.52,348.50 L 589.95,348.37 L 589.38,348.25 L 588.80,348.12 Z" fill="#ffffff"/>
<text class="lib" x="590.67" y="119.00" font-size="27.18" font-weight="700" fill="#a81d36" stroke="#a81d36" stroke-width="0.8" stroke-linejoin="round" textLength="95.92" lengthAdjust="spacingAndGlyphs">Ολλανδία</text>
<text class="lib" x="590.47" y="132.80" font-size="11.19" font-weight="400" fill="#a81d36" stroke="#a81d36" stroke-width="0.2" stroke-linejoin="round" textLength="90.75" lengthAdjust="spacingAndGlyphs">Πληθυσμός 17,18 εκατ.</text>
<text class="lib" x="586.41" y="205.40" font-size="27.33" font-weight="700" fill="#080808" stroke="#080808" stroke-width="0.8" stroke-linejoin="round" textLength="68.47" lengthAdjust="spacingAndGlyphs">Βέλγιο</text>
<text class="lib" x="586.87" y="220.70" font-size="11.05" font-weight="400" fill="#111111" stroke="#111111" stroke-width="0.2" stroke-linejoin="round" textLength="92.62" lengthAdjust="spacingAndGlyphs">Πληθυσμός 11,04 εκατ.</text>
<text class="lib" x="587.70" y="296.10" font-size="27.91" font-weight="700" fill="#296c33" stroke="#296c33" stroke-width="0.8" stroke-linejoin="round" textLength="118.73" lengthAdjust="spacingAndGlyphs">Πορτογαλία</text>
<text class="lib" x="588.18" y="312.50" font-size="11.19" font-weight="400" fill="#296c33" stroke="#296c33" stroke-width="0.2" stroke-linejoin="round" textLength="88.80" lengthAdjust="spacingAndGlyphs">Πληθυσμός 10,3 εκατ.</text>
<text class="lib" x="589.12" y="394.40" font-size="27.62" font-weight="700" fill="#272476" stroke="#272476" stroke-width="0.8" stroke-linejoin="round" textLength="75.74" lengthAdjust="spacingAndGlyphs">Ελλάδα</text>
<text class="lib" x="589.67" y="410.70" font-size="13.95" font-weight="400" fill="#272476" stroke="#272476" stroke-width="0.2" stroke-linejoin="round" textLength="110.77" lengthAdjust="spacingAndGlyphs">Πληθυσμός 10,8 εκατ.</text>
<text class="lib" x="310.70" y="86.85" font-size="14.83" font-weight="700" fill="#111111" stroke="#111111" stroke-width="0.3" stroke-linejoin="round" textLength="193.62" lengthAdjust="spacingAndGlyphs">26 Φεβρουαρίου - 14 Οκτωβρίου</text>
<text class="lib" x="14.49" y="120.90" font-size="12.79" font-weight="400" fill="#5a5a5a" textLength="56.34" lengthAdjust="spacingAndGlyphs">200000</text>
<text class="lib" x="17.88" y="185.90" font-size="12.79" font-weight="400" fill="#5a5a5a" textLength="53.15" lengthAdjust="spacingAndGlyphs">150000</text>
<text class="lib" x="17.88" y="250.90" font-size="12.79" font-weight="400" fill="#5a5a5a" textLength="53.15" lengthAdjust="spacingAndGlyphs">100000</text>
<text class="lib" x="24.83" y="315.90" font-size="12.79" font-weight="400" fill="#5a5a5a" textLength="46.12" lengthAdjust="spacingAndGlyphs">50000</text>
<text class="lib" x="61.06" y="380.90" font-size="12.79" font-weight="400" fill="#5a5a5a" textLength="9.82" lengthAdjust="spacingAndGlyphs">0</text>
<text class="dj" x="248.65" y="59.27" font-size="35.73" font-weight="200" fill="#1c1c1c" stroke="#1c1c1c" stroke-width="0.45" stroke-linejoin="round" letter-spacing="-2.2" textLength="115.71" lengthAdjust="spacingAndGlyphs">Αριθμός</text>
<text class="dj" x="369.67" y="59.27" font-size="35.73" font-weight="200" fill="#1c1c1c" stroke="#1c1c1c" stroke-width="0.45" stroke-linejoin="round" letter-spacing="-2.2" textLength="181.29" lengthAdjust="spacingAndGlyphs">Κρουσμάτων</text>
<text class="lib" y="81.30" font-size="32.41" font-weight="700" fill="#a81d36" stroke="#a81d36" stroke-width="1.0" stroke-linejoin="round"><tspan x="650.66" textLength="19.87" lengthAdjust="spacingAndGlyphs">1</tspan><tspan x="667.60" textLength="22.39" lengthAdjust="spacingAndGlyphs">9</tspan><tspan x="691.52" textLength="22.43" lengthAdjust="spacingAndGlyphs">6</tspan><tspan x="713.31" textLength="11.42" lengthAdjust="spacingAndGlyphs">.</tspan><tspan x="721.70" textLength="19.50" lengthAdjust="spacingAndGlyphs">1</tspan><tspan x="738.52" textLength="22.43" lengthAdjust="spacingAndGlyphs">6</tspan><tspan x="762.19" textLength="19.69" lengthAdjust="spacingAndGlyphs">3</tspan></text>
<rect x="651.51" y="76.79" width="6.99" height="5.91" fill="#ffffff"/>
<path d="M 664.40,82.70 L 670.94,82.25 L 670.94,81.93 L 670.94,81.93 L 670.94,81.62 L 670.94,81.62 L 670.94,81.30 L 670.94,81.30 L 670.94,80.98 L 670.94,80.98 L 670.94,80.67 L 670.71,80.67 L 670.71,80.35 L 670.37,80.35 L 670.37,80.03 L 670.10,80.03 L 670.10,79.72 L 669.84,79.72 L 669.84,79.40 L 669.62,79.40 L 669.62,79.08 L 669.43,79.08 L 669.43,78.77 L 669.23,78.77 L 669.23,78.45 L 669.07,78.45 L 669.07,78.13 L 668.94,78.13 L 668.94,77.82 L 668.82,77.82 L 668.82,77.50 L 668.70,77.50 L 668.70,77.19 L 668.70,77.19 L 668.70,76.87 L 668.70,76.87 L 668.70,76.79 L 664.40,76.79 Z" fill="#ffffff"/>
<rect x="722.65" y="76.79" width="6.74" height="5.91" fill="#ffffff"/>
<path d="M 735.20,82.70 L 741.63,82.25 L 741.63,81.93 L 741.63,81.93 L 741.63,81.62 L 741.63,81.62 L 741.63,81.30 L 741.63,81.30 L 741.63,80.98 L 741.63,80.98 L 741.63,80.67 L 741.63,80.67 L 741.63,80.35 L 741.63,80.35 L 741.63,80.03 L 741.63,80.03 L 741.63,79.72 L 741.63,79.72 L 741.63,79.40 L 741.42,79.40 L 741.42,79.08 L 741.18,79.08 L 741.18,78.77 L 740.96,78.77 L 740.96,78.45 L 740.75,78.45 L 740.75,78.13 L 740.57,78.13 L 740.57,77.82 L 740.39,77.82 L 740.39,77.50 L 740.25,77.50 L 740.25,77.19 L 740.25,77.19 L 740.25,76.87 L 740.25,76.87 L 740.25,76.79 L 735.20,76.79 Z" fill="#ffffff"/>
<text class="lib" y="170.30" font-size="32.85" font-weight="700" fill="#080808" stroke="#080808" stroke-width="1.0" stroke-linejoin="round"><tspan x="644.89" textLength="20.42" lengthAdjust="spacingAndGlyphs">1</tspan><tspan x="660.40" textLength="20.74" lengthAdjust="spacingAndGlyphs">7</tspan><tspan x="681.65" textLength="20.70" lengthAdjust="spacingAndGlyphs">3</tspan><tspan x="702.31" textLength="11.42" lengthAdjust="spacingAndGlyphs">.</tspan><tspan x="713.28" textLength="19.64" lengthAdjust="spacingAndGlyphs">2</tspan><tspan x="734.43" textLength="20.77" lengthAdjust="spacingAndGlyphs">4</tspan><tspan x="756.75" textLength="24.56" lengthAdjust="spacingAndGlyphs">0</tspan></text>
<rect x="645.80" y="165.75" width="7.16" height="5.95" fill="#ffffff"/>
<path d="M 659.00,171.70 L 664.88,171.26 L 664.88,170.94 L 664.88,170.94 L 664.88,170.62 L 664.88,170.62 L 664.88,170.30 L 664.88,170.30 L 664.88,169.98 L 664.88,169.98 L 664.88,169.66 L 664.88,169.66 L 664.88,169.34 L 664.88,169.34 L 664.88,169.02 L 664.90,169.02 L 664.90,168.70 L 664.90,168.70 L 664.90,168.38 L 664.92,168.38 L 664.92,168.05 L 664.96,168.05 L 664.96,167.73 L 664.99,167.73 L 664.99,167.41 L 665.01,167.41 L 665.01,167.09 L 665.07,167.09 L 665.07,166.77 L 665.12,166.77 L 665.12,166.45 L 665.16,166.45 L 665.16,166.13 L 665.23,166.13 L 665.23,165.81 L 665.30,165.81 L 665.30,165.75 L 659.00,165.75 Z" fill="#ffffff"/>
<text class="lib" y="261.30" font-size="33.14" font-weight="700" fill="#296c33" stroke="#296c33" stroke-width="1.0" stroke-linejoin="round"><tspan x="652.71" textLength="22.27" lengthAdjust="spacingAndGlyphs">9</tspan><tspan x="673.01" textLength="20.24" lengthAdjust="spacingAndGlyphs">1</tspan><tspan x="689.31" textLength="11.42" lengthAdjust="spacingAndGlyphs">.</tspan><tspan x="697.56" textLength="19.87" lengthAdjust="spacingAndGlyphs">1</tspan><tspan x="714.14" textLength="21.82" lengthAdjust="spacingAndGlyphs">9</tspan><tspan x="737.66" textLength="20.25" lengthAdjust="spacingAndGlyphs">3</tspan></text>
<rect x="673.90" y="256.72" width="7.10" height="5.98" fill="#ffffff"/>
<path d="M 687.00,262.70 L 691.25,262.27 L 691.25,261.95 L 691.25,261.95 L 691.25,261.62 L 691.25,261.62 L 691.25,261.30 L 691.25,261.30 L 691.25,260.98 L 691.25,260.98 L 691.25,260.65 L 691.25,260.65 L 691.25,260.33 L 691.25,260.33 L 691.25,260.01 L 691.25,260.01 L 691.25,259.68 L 691.25,259.68 L 691.25,259.36 L 691.25,259.36 L 691.25,259.03 L 691.25,259.03 L 691.25,258.71 L 691.25,258.71 L 691.25,258.39 L 691.25,258.39 L 691.25,258.06 L 691.25,258.06 L 691.25,257.74 L 691.25,257.74 L 691.25,257.42 L 691.25,257.42 L 691.25,257.09 L 691.25,257.09 L 691.25,256.77 L 691.25,256.77 L 691.25,256.72 L 687.00,256.72 Z" fill="#ffffff"/>
<rect x="698.65" y="256.72" width="6.75" height="5.98" fill="#ffffff"/>
<path d="M 711.30,262.70 L 717.84,262.27 L 717.84,261.95 L 717.84,261.95 L 717.84,261.62 L 717.84,261.62 L 717.84,261.30 L 717.84,261.30 L 717.84,260.98 L 717.52,260.98 L 717.52,260.65 L 717.14,260.65 L 717.14,260.33 L 716.81,260.33 L 716.81,260.01 L 716.55,260.01 L 716.55,259.68 L 716.30,259.68 L 716.30,259.36 L 716.09,259.36 L 716.09,259.03 L 715.89,259.03 L 715.89,258.71 L 715.70,258.71 L 715.70,258.39 L 715.55,258.39 L 715.55,258.06 L 715.42,258.06 L 715.42,257.74 L 715.30,257.74 L 715.30,257.42 L 715.19,257.42 L 715.19,257.09 L 715.19,257.09 L 715.19,256.77 L 715.19,256.77 L 715.19,256.72 L 711.30,256.72 Z" fill="#ffffff"/>
<text class="lib" y="363.20" font-size="32.99" font-weight="700" fill="#272476" stroke="#272476" stroke-width="1.0" stroke-linejoin="round"><tspan x="651.13" textLength="20.33" lengthAdjust="spacingAndGlyphs">2</tspan><tspan x="673.72" textLength="19.02" lengthAdjust="spacingAndGlyphs">3</tspan><tspan x="693.81" textLength="11.42" lengthAdjust="spacingAndGlyphs">.</tspan><tspan x="706.41" textLength="21.80" lengthAdjust="spacingAndGlyphs">4</tspan><tspan x="729.10" textLength="22.39" lengthAdjust="spacingAndGlyphs">9</tspan><tspan x="753.38" textLength="20.23" lengthAdjust="spacingAndGlyphs">5</tspan></text>
</svg>
</body></html>
